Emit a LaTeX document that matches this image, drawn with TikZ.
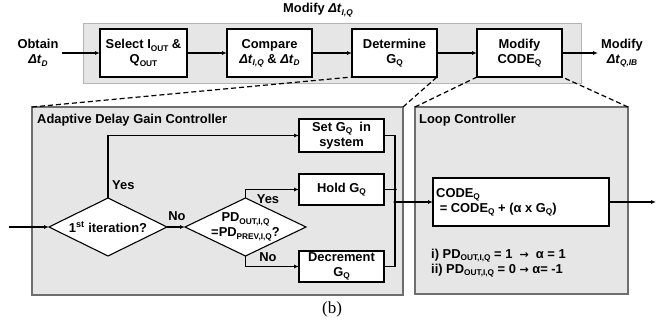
\documentclass[tikz,border=0pt]{standalone}
\usepackage{fontspec}
\setmainfont{Liberation Sans}
\newfontfamily\seriffont{Liberation Serif}
\newfontfamily\symfont{DejaVu Sans}
\usetikzlibrary{shapes.geometric,arrows.meta}
\newcommand\sbs[1]{\raisebox{-0.35ex}{\fontsize{8.3}{8.3}\selectfont #1}}
\newcommand\dt{\textit{Δt}}
\newcommand\rarr{{\symfont\fontsize{11}{11}\selectfont →}}
\definecolor{panelfill}{HTML}{E6E6E6}
\definecolor{toppanelline}{HTML}{B4B4B4}
\definecolor{panelline}{HTML}{6E6E6E}
\tikzset{
  every node/.style={font=\bfseries\fontsize{12.9}{15}\selectfont},
  box/.style={draw=black, line width=1.1pt, fill=white, inner sep=0pt, outer sep=0pt, align=center},
  dia/.style={draw=black, line width=1.1pt, fill=white, diamond, inner sep=0pt, outer sep=0pt},
  panel/.style={draw=panelline, line width=1.3pt, fill=panelfill, inner sep=0pt, outer sep=0pt},
  wire/.style={line width=1.1pt},
  arr/.style={line width=1.1pt, -{Latex[length=5pt,width=4pt]}},
  zoomline/.style={line width=1.2pt, dash pattern=on 5pt off 3pt},
  lbl/.style={inner sep=0pt, align=center},
  dot/.style={circle, fill=black, inner sep=0pt, minimum size=3.5pt},
}
\begin{document}
\begin{tikzpicture}[x=1pt,y=-1pt]
\useasboundingbox (0,0) rectangle (670,324);
% top panel
\node[draw=toppanelline, line width=1pt, fill=panelfill, minimum width=498pt, minimum height=60pt, inner sep=0pt] (top) at (332,53) {};
\node[lbl] (title) at (318,10) {Modify \dt\sbs{\textit{I,Q}}};
\node[box, minimum width=87pt, minimum height=48pt] (sel) at (143.5,53) {Select I\sbs{OUT} \&\\Q\sbs{OUT}};
\node[box, minimum width=85pt, minimum height=48pt] (cmp) at (269.5,53) {Compare\\\dt\sbs{\textit{I,Q}} \& \dt\sbs{\textit{D}}};
\node[box, minimum width=85pt, minimum height=48pt] (det) at (394.5,53) {Determine\\G\sbs{Q}};
\node[box, minimum width=85pt, minimum height=48pt] (mod) at (519.5,53) {Modify\\CODE\sbs{Q}};
\node[lbl] (obt) at (38,53) {Obtain\\\dt\sbs{\textit{D}}};
\node[lbl] (res) at (622,53) {Modify\\\dt\sbs{\textit{Q,IB}}};
\coordinate (obte) at (62,53);
\coordinate (rese) at (598,53);
\draw[arr] (obte) -- (sel.west);
\draw[arr] (sel.east) -- (cmp.west);
\draw[arr] (cmp.east) -- (det.west);
\draw[arr] (det.east) -- (mod.west);
\draw[arr] (mod.east) -- (rese);

% bottom panels
\node[panel, minimum width=371pt, minimum height=188pt] (lp) at (217.5,201) {};
\node[panel, minimum width=213pt, minimum height=187pt] (rp) at (521.5,200.5) {};
\node[lbl, anchor=west] (lpt) at (37,120) {Adaptive Delay Gain Controller};
\node[lbl, anchor=west] (rpt) at (419,120) {Loop Controller};

% dashed zoom lines
\draw[zoomline] (lp.north west) -- (det.south west);
\draw[zoomline] (lp.north east) -- (det.south east);
\draw[zoomline] (rp.north west) -- (mod.south west);
\draw[zoomline] (rp.north east) -- (mod.south east);

% left panel flow
\node[dia, minimum width=118pt, minimum height=58pt] (d1) at (108,227) {};
\node[lbl] (d1t) at (d1.center) {1\textsuperscript{st} iteration?};
\node[dia, minimum width=121pt, minimum height=58pt] (d2) at (245.5,227) {};
\node[lbl] (d2t) at (d2.center) {PD\sbs{OUT,I,Q}\\=PD\sbs{PREV,I,Q}?};
\node[box, minimum width=85pt, minimum height=33pt] (set) at (341.5,135.5) {Set G\sbs{Q}\ \ in\\system};
\node[box, minimum width=85pt, minimum height=31pt] (hold) at (341.5,189.5) {Hold G\sbs{Q}};
\node[box, minimum width=85pt, minimum height=31pt] (dec) at (341.5,266.5) {Decrement\\G\sbs{Q}};
\coordinate (in) at (9,227);
\coordinate (j) at (395,202);
\draw[arr] (in) -- (d1.west);
\draw[arr] (d1.north) |- (set.west);
\draw[arr] (d1.east) -- (d2.west);
\draw[arr] (d2.north) |- (hold.west);
\draw[arr] (d2.south) |- (dec.west);
\node[lbl, anchor=west] (y1) at (112,185) {Yes};
\node[lbl] (n1) at (177,216) {No};
\node[lbl] (y2) at (268,199) {Yes};
\node[lbl] (n2) at (268,257) {No};
\draw[wire] (set.east) -| (j) |- (dec.east);
\draw[wire] (hold.east) -- (hold.east -| j) node[dot] (dh) {};
\node[dot] (dj) at (j) {};

% right panel
\node[box, minimum width=176pt, minimum height=48pt, align=left] (code) at (521,202) {};
\node[lbl, anchor=west, align=left] (codet) at (436,202.5) {CODE\sbs{Q}\\\ = CODE\sbs{Q} + (α x G\sbs{Q})};
\coordinate (out) at (656,202);
\draw[arr] (j) -- (code.west);
\draw[arr] (code.east) -- (out);
\node[lbl, anchor=west, align=left] (rules) at (431,263) {i) PD\sbs{OUT,I,Q} = 1 \ \rarr\ \ α = 1\\ii) PD\sbs{OUT,I,Q} = 0 \rarr\ α= -1};

\node[lbl, font=\seriffont\fontsize{17}{17}\selectfont] (cap) at (332,309) {(b)};
\end{tikzpicture}
\end{document}
